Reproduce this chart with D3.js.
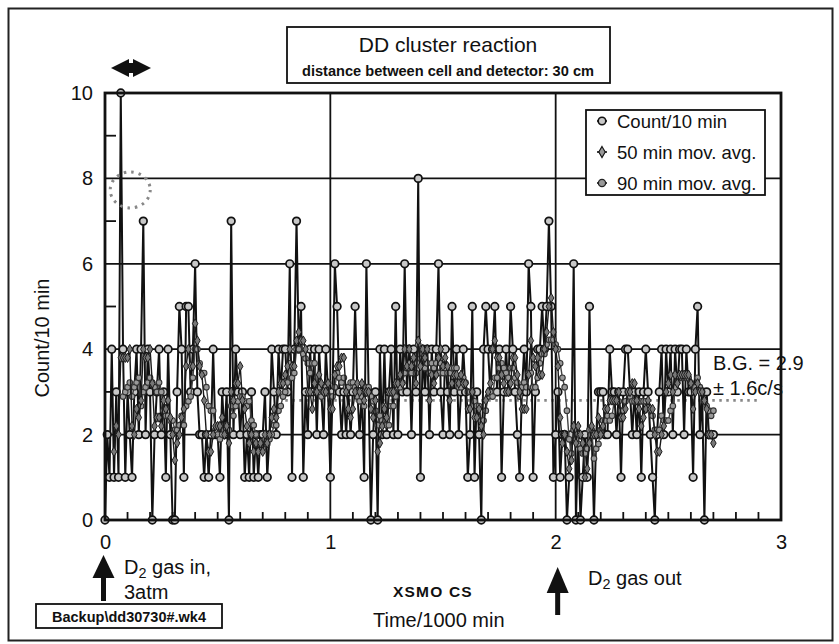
<!DOCTYPE html>
<html><head><meta charset="utf-8">
<script src="https://cdn.jsdelivr.net/npm/d3@7"></script>
<style>body{margin:0;background:#fff}text{font-family:"Liberation Sans",Arial,sans-serif;fill:#111}</style></head>
<body><svg id="s" width="839" height="644"></svg>
<script>
// Count per 10 min, one value every 10 min (x in 1000 min)
const counts = [
0,2,1,4,1,3,1,10,4,1,
3,2,1,3,4,2,4,7,2,4,
3,0,2,3,4,2,3,1,4,2,
0,0,3,5,4,1,5,5,3,4,
6,3,2,2,1,2,1,2,4,2,
2,1,3,2,3,0,7,2,4,3,
2,3,1,2,1,3,1,2,1,2,
2,3,1,2,4,3,2,4,3,4,
4,3,6,1,4,7,4,5,1,3,
2,4,3,4,2,4,3,2,4,3,
1,3,6,5,3,2,3,2,3,2,
3,5,3,2,3,1,6,3,0,2,
3,0,4,2,4,2,3,4,2,5,
2,4,3,6,3,4,2,4,3,8,
1,4,3,4,2,4,3,4,6,3,
2,4,3,2,5,3,4,2,3,4,
3,1,2,5,1,3,2,0,4,5,
4,3,4,5,3,4,1,3,4,3,
5,4,3,2,1,3,4,3,6,5,
1,3,4,4,5,4,5,7,5,1,
2,3,1,2,2,0,1,2,6,0,
2,0,1,2,1,5,2,0,2,3,
3,3,2,2,4,3,3,2,3,1,
3,4,4,3,2,3,2,3,1,3,
4,3,2,1,0,2,3,4,2,4,
3,4,2,4,3,4,4,2,4,3,
3,1,4,5,2,3,0,3,2,2,
2];
// 50 min moving average (starts at the 5th point)
const avg50 = [
1.6,2.2,2.0,3.8,3.8,3.8,3.8,4.0,2.2,2.0,2.6,2.4,2.8,4.0,3.8,3.8,4.0,3.2,2.2,2.4,
2.4,2.2,2.8,2.6,2.8,2.4,2.0,1.4,1.8,2.0,2.4,2.6,3.6,4.0,3.6,3.6,4.6,4.2,3.6,3.4,
2.8,2.0,1.6,1.6,2.0,2.2,2.2,2.2,2.4,2.0,2.2,1.8,3.0,2.8,3.2,3.2,3.6,2.8,2.6,2.2,
1.8,2.0,1.6,1.8,1.6,1.8,1.6,2.0,1.8,2.0,2.4,2.6,2.4,3.0,3.2,3.2,3.4,3.6,4.0,3.6,
3.6,4.2,4.4,4.2,4.2,4.0,3.0,3.0,2.6,3.2,3.0,3.4,3.2,3.0,3.0,3.2,2.6,2.6,3.4,3.6,
3.6,3.8,3.8,3.0,2.6,2.4,2.6,3.0,3.2,3.0,3.2,2.8,3.0,3.0,2.6,2.4,2.8,1.6,1.8,2.2,
2.6,2.4,3.0,3.0,3.0,3.2,3.2,3.4,3.2,4.0,3.6,4.0,3.6,3.8,3.2,4.2,3.6,4.0,3.8,4.0,
2.8,3.4,3.2,3.4,3.8,4.0,3.6,3.8,3.6,2.8,3.2,3.4,3.4,3.2,3.4,3.2,3.2,2.6,2.6,3.0,
2.4,2.4,2.6,2.2,2.0,2.8,3.0,3.2,4.0,4.2,3.8,3.8,3.4,3.2,3.0,3.0,3.2,3.8,3.8,3.4,
3.0,2.6,2.6,2.6,3.4,4.2,3.8,3.6,3.8,3.4,3.4,4.0,4.4,5.0,5.2,4.4,4.0,3.6,2.4,1.8,
2.0,1.6,1.2,1.4,2.2,1.8,2.2,2.0,1.8,1.0,1.2,1.8,2.2,2.0,2.0,2.4,2.0,2.2,2.6,2.6,
2.8,2.8,2.8,2.8,3.0,2.4,2.4,2.6,3.0,3.0,3.2,3.2,2.8,2.6,2.2,2.4,2.6,2.8,2.6,2.6,
2.0,1.6,1.6,2.0,2.2,3.0,3.2,3.4,3.0,3.4,3.2,3.4,3.4,3.4,3.4,3.4,3.2,2.6,3.0,3.2,
3.0,3.0,2.8,2.6,2.0,2.0,1.8];
// 90 min moving average (starts at the 9th point)
const avg90 = [
2.89,3.00,3.11,3.22,2.89,3.11,3.22,3.33,2.67,3.00,3.11,3.22,3.33,3.22,3.11,3.00,3.22,3.00,2.56,2.44,
2.44,2.33,2.33,2.11,2.11,2.22,2.44,2.22,2.67,2.78,2.89,3.33,4.00,4.00,3.67,3.44,3.44,3.11,2.67,2.56,
2.56,2.11,2.00,1.89,2.00,2.11,2.22,2.11,2.67,2.44,2.67,2.78,2.89,2.89,2.78,2.67,2.78,2.33,2.22,2.00,
1.78,1.78,1.67,1.89,1.78,1.89,2.00,2.22,2.22,2.56,2.67,2.89,3.00,3.22,3.67,3.33,3.44,4.00,4.00,4.22,
3.89,3.78,3.67,3.44,3.67,3.67,3.11,3.11,2.89,3.00,3.11,3.22,2.89,2.89,3.11,3.44,3.33,3.22,3.33,3.11,
3.11,3.22,3.22,3.11,2.89,2.78,2.89,2.67,3.11,3.11,2.89,2.78,2.56,2.22,2.44,2.33,2.67,2.22,2.22,2.67,
2.67,2.89,3.11,3.11,3.22,3.44,3.56,3.67,3.44,3.67,3.44,4.11,3.78,3.89,3.56,3.67,3.44,3.67,3.56,3.67,
3.44,3.67,3.44,3.56,3.44,3.44,3.56,3.56,3.56,3.11,3.11,3.33,3.22,3.00,3.00,3.00,2.78,2.67,2.67,2.33,
2.33,2.56,2.89,3.00,2.89,3.33,3.33,3.56,3.67,3.56,3.44,3.33,3.56,3.56,3.33,3.22,2.89,3.11,3.22,3.11,
3.44,3.44,3.11,3.11,3.33,3.67,3.89,3.89,4.11,4.22,4.22,4.22,4.11,4.00,3.67,3.33,3.11,2.56,1.89,1.56,
2.11,1.89,1.78,1.67,1.56,1.56,1.67,2.11,2.11,1.44,1.67,1.78,2.11,2.33,2.33,2.44,2.33,2.44,2.78,2.78,
2.78,2.56,2.56,2.78,3.00,2.89,2.78,2.78,2.78,2.78,2.78,2.78,2.78,2.67,2.56,2.44,2.11,2.11,2.11,2.44,
2.33,2.33,2.33,2.56,2.67,3.11,3.22,3.33,3.33,3.33,3.33,3.33,3.22,3.11,3.11,3.33,3.11,3.00,2.78,2.67,
2.56,2.44,2.56];
const xTicks = [0,1,2,3];
const yTicks = [0,2,4,6,8,10];
const xMinor = [0.1,0.2,0.3,0.4,0.5,0.6,0.7,0.8,0.9,1.1,1.2,1.3,1.4,1.5,1.6,1.7,1.8,1.9,2.1,2.2,2.3,2.4,2.5,2.6,2.7,2.8,2.9];
const yMinor = [1,3,5,7,9];
const bgLevel = 2.8, bgFrom = 0.8, bgTo = 2.91;
const step = 0.01;

const svg = d3.select("#s");
const x = d3.scaleLinear().domain([0,3]).range([105,781]);
const y = d3.scaleLinear().domain([0,10]).range([520,93]);
const ink = "#111";

// outer frame
svg.append("rect").attr("x",8.5).attr("y",8.5).attr("width",824).attr("height",632)
  .attr("fill","none").attr("stroke","#222").attr("stroke-width",2);

// gridlines
svg.selectAll(".hg").data([2,4,6,8]).join("line")
  .attr("x1",x(0)).attr("x2",x(3)).attr("y1",d=>y(d)).attr("y2",d=>y(d))
  .attr("stroke",ink).attr("stroke-width",1.8);
svg.selectAll(".vg").data([1,2]).join("line")
  .attr("x1",d=>x(d)).attr("x2",d=>x(d)).attr("y1",y(0)).attr("y2",y(10))
  .attr("stroke",ink).attr("stroke-width",1.8);
// minor ticks
svg.selectAll(".ym").data(yMinor).join("line")
  .attr("x1",x(0)).attr("x2",x(0)+11).attr("y1",d=>y(d)).attr("y2",d=>y(d))
  .attr("stroke",ink).attr("stroke-width",1.8);
svg.selectAll(".xm").data(xMinor).join("line")
  .attr("x1",d=>x(d)).attr("x2",d=>x(d)).attr("y1",y(0)).attr("y2",y(0)-8)
  .attr("stroke",ink).attr("stroke-width",1.8);

// background dotted level
svg.append("line").attr("x1",x(bgFrom)).attr("x2",x(bgTo)).attr("y1",y(bgLevel)).attr("y2",y(bgLevel))
  .attr("stroke","#888").attr("stroke-width",2.8).attr("stroke-dasharray","2.5,4.5");

// count series
const pts = counts.map((v,i)=>[i*step, v]);
svg.append("path").datum(pts).attr("fill","none").attr("stroke",ink).attr("stroke-width",2)
  .attr("d", d3.line().x(d=>x(d[0])).y(d=>y(d[1])));
svg.append("g").selectAll("circle").data(pts).join("circle")
  .attr("cx",d=>x(d[0])).attr("cy",d=>y(d[1])).attr("r",3.8)
  .attr("fill","#c8c8c8").attr("stroke",ink).attr("stroke-width",1.7);

// 90 min moving average
const p90 = avg90.map((v,i)=>[(i+8)*step, v]);
svg.append("path").datum(p90).attr("fill","none").attr("stroke","#444").attr("stroke-width",1.4)
  .attr("d", d3.line().x(d=>x(d[0])).y(d=>y(d[1])));
svg.append("g").selectAll("circle").data(p90).join("circle")
  .attr("cx",d=>x(d[0])).attr("cy",d=>y(d[1])).attr("r",2.8)
  .attr("fill","#999").attr("stroke","#333").attr("stroke-width",1.1);

// 50 min moving average
const p50 = avg50.map((v,i)=>[(i+4)*step, v]);
const diamond = d3.symbol().type(d3.symbolDiamond).size(26);
svg.append("path").datum(p50).attr("fill","none").attr("stroke","#1a1a1a").attr("stroke-width",1.4)
  .attr("d", d3.line().x(d=>x(d[0])).y(d=>y(d[1])));
svg.append("g").selectAll("path").data(p50).join("path")
  .attr("transform",d=>`translate(${x(d[0])},${y(d[1])})`).attr("d",diamond)
  .attr("fill","#777").attr("stroke","#1a1a1a").attr("stroke-width",1);

// plot frame
svg.append("rect").attr("x",x(0)).attr("y",y(10)).attr("width",x(3)-x(0)).attr("height",y(0)-y(10))
  .attr("fill","none").attr("stroke",ink).attr("stroke-width",2.8);

// axes labels via d3 axes
const xAxis = svg.append("g").attr("transform",`translate(0,${y(0)})`)
  .call(d3.axisBottom(x).tickValues(xTicks).tickSize(0).tickPadding(15).tickFormat(d3.format("d")));
const yAxis = svg.append("g").attr("transform",`translate(${x(0)},0)`)
  .call(d3.axisLeft(y).tickValues(yTicks).tickSize(0).tickPadding(12).tickFormat(d3.format("d")));
[xAxis,yAxis].forEach(g=>{g.select(".domain").remove();
  g.selectAll("text").attr("font-family","Liberation Sans, Arial, sans-serif").attr("font-size",20).attr("fill",ink);});

// y axis title
svg.append("text").attr("transform","translate(49,338) rotate(-90)").attr("text-anchor","middle")
  .attr("font-size",20).text("Count/10 min");

// title box
svg.append("rect").attr("x",287).attr("y",27).attr("width",323).attr("height",56)
  .attr("fill","#fff").attr("stroke",ink).attr("stroke-width",1.8);
svg.append("text").attr("x",448).attr("y",52).attr("text-anchor","middle").attr("font-size",21).text("DD cluster reaction");
svg.append("text").attr("x",448).attr("y",76).attr("text-anchor","middle").attr("font-size",14.6).attr("font-weight","bold").text("distance between cell and detector: 30 cm");

// legend
svg.append("rect").attr("x",586).attr("y",110).attr("width",179).attr("height",85)
  .attr("fill","#fff").attr("stroke",ink).attr("stroke-width",1.8);
const legendItems = ["Count/10 min","50 min mov. avg.","90 min mov. avg."];
const ly = [121,152,183];
legendItems.forEach((t,i)=>{
  svg.append("line").attr("x1",597).attr("x2",607).attr("y1",ly[i]).attr("y2",ly[i]).attr("stroke",ink).attr("stroke-width",1.6);
  if(i===0) svg.append("circle").attr("cx",602).attr("cy",ly[i]).attr("r",3.8).attr("fill","#c8c8c8").attr("stroke",ink).attr("stroke-width",1.6);
  if(i===1) svg.append("path").attr("transform",`translate(602,${ly[i]})`).attr("d",d3.symbol().type(d3.symbolDiamond).size(36)).attr("fill","#999").attr("stroke",ink).attr("stroke-width",1.1);
  if(i===2) svg.append("circle").attr("cx",602).attr("cy",ly[i]).attr("r",3.6).attr("fill","#999").attr("stroke","#222").attr("stroke-width",1.3);
  svg.append("text").attr("x",617).attr("y",ly[i]).attr("dy","0.36em").attr("font-size",18.5).text(t);
});

// top double arrow
const da = svg.append("g").attr("fill",ink);
da.append("path").attr("d","M111,68 L129,59 L129,77 Z");
da.append("path").attr("d","M151,68 L133,59 L133,77 Z");
da.append("rect").attr("x",129).attr("y",63).attr("width",4).attr("height",10);
// dotted circle
svg.append("ellipse").attr("cx",x(0.112)).attr("cy",y(7.73)).attr("rx",20).attr("ry",18)
  .attr("fill","none").attr("stroke","#888").attr("stroke-width",3).attr("stroke-dasharray","2.5,5");

// B.G. text
svg.append("text").attr("x",713).attr("y",370).attr("font-size",20).text("B.G. = 2.9");
svg.append("text").attr("x",713).attr("y",395).attr("font-size",20).text("± 1.6c/s");

// arrows
function upArrow(cx, top, headBase, bottom, hw){
  svg.append("path").attr("d",`M${cx},${top} L${cx-hw},${headBase} L${cx+hw},${headBase} Z`).attr("fill",ink);
  svg.append("rect").attr("x",cx-2.5).attr("y",headBase-1).attr("width",5).attr("height",bottom-headBase+1).attr("fill",ink);
}
upArrow(x(0)-1.5,555,578,601,11);
upArrow(x(2)+2,567,593,615,11);

function subText(tx, ty, pre, sub, post, fs){
  const t = svg.append("text").attr("x",tx).attr("y",ty).attr("font-size",fs);
  t.append("tspan").text(pre);
  t.append("tspan").attr("dy",4).attr("font-size",fs*0.72).text(sub);
  t.append("tspan").attr("dy",-4).text(post);
}
subText(124,574,"D","2"," gas in,",20);
svg.append("text").attr("x",124).attr("y",599).attr("font-size",20).text("3atm");
subText(588,585,"D","2"," gas out",20);

svg.append("text").attr("x",393).attr("y",597).attr("font-size",15.5).attr("font-weight","bold").attr("letter-spacing","1.2px").text("XSMO CS");
svg.append("text").attr("x",373).attr("y",627).attr("font-size",20).text("Time/1000 min");

// file box
svg.append("rect").attr("x",36).attr("y",604).attr("width",186).attr("height",24)
  .attr("fill","#fff").attr("stroke",ink).attr("stroke-width",1.8);
svg.append("text").attr("x",129).attr("y",622).attr("text-anchor","middle").attr("font-size",14.5).attr("font-weight","bold").text("Backup\\dd30730#.wk4");
</script></body></html>
